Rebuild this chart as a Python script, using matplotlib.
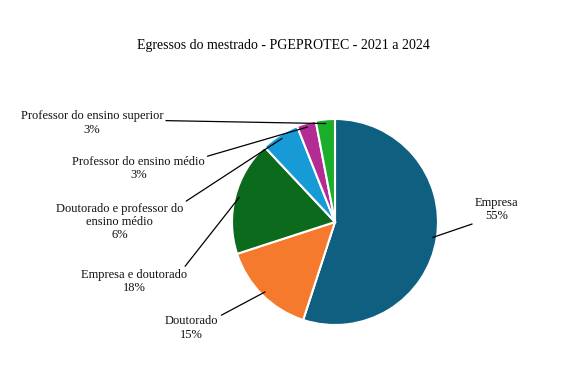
import matplotlib
matplotlib.use('Agg')
import matplotlib.pyplot as plt
import numpy as np

# ---------------------------------------------------------------------------
# Data
# ---------------------------------------------------------------------------
categories = [
    'Empresa',
    'Doutorado',
    'Empresa e doutorado',
    'Doutorado e professor do\nensino médio',
    'Professor do ensino médio',
    'Professor do ensino superior',
]
values = [55, 15, 18, 6, 3, 3]
colors = ['#0e5f80', '#f57a2e', '#0b6a1c', '#179bd7', '#b22c93', '#1aae2b']
title = 'Egressos do mestrado - PGEPROTEC - 2021 a 2024'

# label placement (data units, pie radius = 1) and where the leader leaves the text
label_pos = [(1.57, 0.12), (-1.39, -1.03), (-1.95, -0.58),
             (-2.09, 0.0), (-1.91, 0.52), (-2.36, 0.96)]
rel_pos = [(0.05, 0.0), (1.0, 0.95), (0.95, 0.95),
           (0.98, 0.95), (1.0, 0.95), (1.0, 0.6)]

plt.rcParams['font.family'] = ['Liberation Serif', 'DejaVu Serif']

W, H, DPI = 569, 387, 100
SCALE = 103.0          # pixels per unit radius
CX, CY = 335, 222      # pie centre in pixels (from top-left)

fig = plt.figure(figsize=(W / DPI, H / DPI), dpi=DPI)
ax = fig.add_axes([0, 0, 1, 1])

wedges, _ = ax.pie(values, colors=colors, startangle=90, counterclock=False,
                   wedgeprops=dict(edgecolor='white', linewidth=1.5))

for w, cat, val, pos, rp in zip(wedges, categories, values, label_pos, rel_pos):
    ang = np.deg2rad((w.theta1 + w.theta2) / 2)
    xy = (0.96 * np.cos(ang), 0.96 * np.sin(ang))
    ax.annotate(f'{cat}\n{val}%', xy=xy, xytext=pos, ha='center', va='center',
                fontsize=9, linespacing=1.15, color='#111111',
                arrowprops=dict(arrowstyle='-', color='black', lw=0.9,
                                relpos=rp, shrinkA=0, shrinkB=0))

ax.set_xlim(-CX / SCALE, (W - CX) / SCALE)
ax.set_ylim(-(H - CY) / SCALE, CY / SCALE)
ax.set_aspect('equal', adjustable='box')
ax.axis('off')

fig.text(283 / W, 1 - 45 / H, title, ha='center', va='center', fontsize=10)

fig.savefig('out.png', dpi=DPI)
